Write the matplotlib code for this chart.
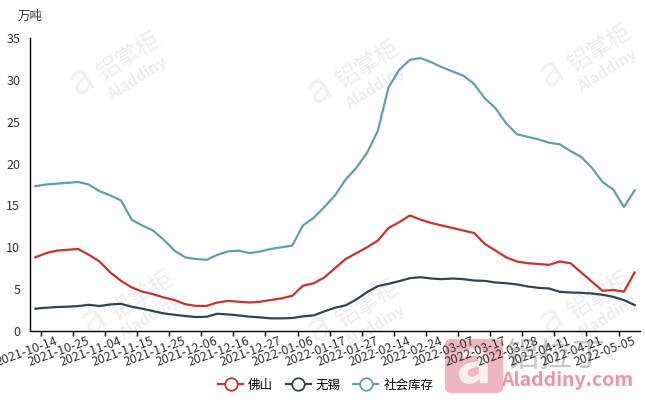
import matplotlib
matplotlib.use("Agg")
import matplotlib.pyplot as plt
from matplotlib.lines import Line2D
from matplotlib.patches import FancyBboxPatch

plt.rcParams['font.family'] = ['Noto Sans CJK SC', 'DejaVu Sans']

# 日期（每周两次）
dates = ['2021-10-08', '2021-10-11', '2021-10-14', '2021-10-18', '2021-10-21', '2021-10-25',
         '2021-10-28', '2021-11-01', '2021-11-04', '2021-11-08', '2021-11-11', '2021-11-15',
         '2021-11-18', '2021-11-22', '2021-11-25', '2021-11-29', '2021-12-02', '2021-12-06',
         '2021-12-09', '2021-12-13', '2021-12-16', '2021-12-20', '2021-12-23', '2021-12-27',
         '2021-12-30', '2022-01-04', '2022-01-06', '2022-01-10', '2022-01-13', '2022-01-17',
         '2022-01-20', '2022-01-24', '2022-01-27', '2022-02-07', '2022-02-10', '2022-02-14',
         '2022-02-17', '2022-02-21', '2022-02-24', '2022-02-28', '2022-03-03', '2022-03-07',
         '2022-03-10', '2022-03-14', '2022-03-17', '2022-03-21', '2022-03-24', '2022-03-28',
         '2022-03-31', '2022-04-07', '2022-04-11', '2022-04-14', '2022-04-18', '2022-04-21',
         '2022-04-25', '2022-04-28', '2022-05-05']

# 佛山
foshan = [8.8, 9.3, 9.6, 9.7, 9.8, 9.1, 8.3, 7.0, 6.0, 5.2, 4.7, 4.4, 4.0, 3.7, 3.2, 3.0, 3.0, 3.4, 3.6, 3.5,
          3.4, 3.5, 3.7, 3.9, 4.2, 5.4, 5.7, 6.4, 7.5, 8.6, 9.3, 10.0, 10.8, 12.3, 13.0, 13.8, 13.3,
          12.9, 12.6, 12.3, 12.0, 11.7, 10.4, 9.6, 8.8, 8.3, 8.1, 8.0, 7.9, 8.3, 8.1, 7.0, 5.9, 4.8, 4.9, 4.7, 7.0]
# 无锡
wuxi = [2.66, 2.78, 2.86, 2.9, 2.98, 3.13, 2.98, 3.17, 3.25, 2.9, 2.66, 2.38, 2.1, 1.94, 1.79, 1.67, 1.7,
        2.06, 1.98, 1.86, 1.71, 1.63, 1.51, 1.51, 1.55, 1.75, 1.86, 2.34, 2.78, 3.06, 3.77, 4.64, 5.36,
        5.64, 5.95, 6.31, 6.43, 6.27, 6.19, 6.27, 6.19, 6.03, 5.99, 5.79, 5.71, 5.56, 5.32, 5.16, 5.08,
        4.68, 4.6, 4.56, 4.48, 4.33, 4.08, 3.69, 3.1]
# 社会库存
total = [17.3, 17.5, 17.6, 17.7, 17.8, 17.5, 16.7, 16.2, 15.6, 13.3, 12.6, 12.0, 10.9, 9.6, 8.8, 8.6, 8.5,
         9.1, 9.5, 9.6, 9.3, 9.5, 9.8, 10.0, 10.2, 12.6, 13.5, 14.8, 16.2, 18.1, 19.5, 21.3, 23.9, 29.1,
         31.2, 32.4, 32.6, 32.1, 31.5, 31.0, 30.5, 29.5, 27.8, 26.6, 24.8, 23.5, 23.2, 22.9, 22.5, 22.3,
         21.5, 20.8, 19.5, 17.8, 16.9, 14.8, 16.8]

names = ['佛山', '无锡', '社会库存']
colors = ['#c23531', '#2f4554', '#61a0a8']


def watermark(fig):
    # 铝掌柜 水印（很淡）
    for x, y in [(0.20, 0.86), (0.57, 0.84), (0.93, 0.88), (0.22, 0.27), (0.57, 0.25), (0.93, 0.27)]:
        fig.text(x, y, '铝掌柜', fontsize=17, color='#ededed', rotation=32,
                 ha='center', va='center', zorder=-1)
        fig.text(x + 0.012, y - 0.055, 'Aladdiny', fontsize=11, color='#ededed', rotation=32,
                 ha='center', va='center', zorder=-1, fontweight='bold', style='italic')
        fig.text(x - 0.075, y - 0.06, 'a', fontsize=30, color='#f0f0f0', rotation=32,
                 ha='center', va='center', zorder=-1)
    # 右下角 铝拉丁
    box = FancyBboxPatch((445 / 645, 1 - 393 / 405), 58 / 645, 54 / 405,
                         boxstyle='round,pad=0,rounding_size=0.012', transform=fig.transFigure,
                         facecolor='#eba3b1', edgecolor='none', alpha=0.8, zorder=-1)
    fig.patches.append(box)
    fig.text(474 / 645, 1 - 365 / 405, 'a', fontsize=44, color='#f7f0f1', ha='center', va='center',
             zorder=-1, fontweight='bold')
    fig.text(556 / 645, 1 - 356 / 405, '铝拉丁', fontsize=24, color='#b5b5b5', ha='center', va='center',
             zorder=-1, alpha=0.75)
    fig.text(567 / 645, 1 - 381 / 405, 'Aladdiny.com', fontsize=14, color='#ea95a5', ha='center',
             va='center', zorder=-1, fontweight='bold')


def main():
    fig = plt.figure(figsize=(6.45, 4.05), dpi=100)
    ax = fig.add_axes([30 / 645, 1 - 331 / 405, 610 / 645, 293 / 405])
    ax.patch.set_alpha(0)

    x = list(range(len(dates)))
    for y, c in zip([foshan, wuxi, total], colors):
        ax.plot(x, y, color=c, lw=1.6, solid_joinstyle='round')

    ax.set_xlim(-0.5, len(dates) - 0.5)
    ax.set_ylim(0, 35)
    ax.set_yticks(range(0, 36, 5))
    ax.tick_params(axis='y', length=0, pad=7, labelsize=9, colors='#333333')

    # 刻度线在类目边界，标签每隔三个
    ax.set_xticks([i + 0.5 for i in range(0, len(dates) - 2, 3)])
    ax.set_xticklabels([])
    ax.tick_params(axis='x', which='major', length=3.5, width=1, color='black')
    lab_pos = list(range(2, len(dates), 3))
    ax.set_xticks(lab_pos, [dates[i] for i in lab_pos], minor=True)
    ax.tick_params(axis='x', which='minor', length=0, pad=7, labelsize=9, labelcolor='#333333')
    for lbl in ax.get_xticklabels(minor=True):
        lbl.set_rotation(20)
        lbl.set_ha('right')
        lbl.set_va('center')
        lbl.set_rotation_mode('anchor')

    for s in ['top', 'right']:
        ax.spines[s].set_visible(False)
    for s in ['left', 'bottom']:
        ax.spines[s].set_color('black')
        ax.spines[s].set_linewidth(1)

    fig.text(18 / 645, 1 - 16 / 405, '万吨', fontsize=9, color='#333333', va='center')

    # 图例
    handles = [Line2D([], [], color=c, lw=1.6, marker='o', markersize=9, markerfacecolor='white',
                      markeredgewidth=1.3) for c in colors]
    fig.legend(handles, names, loc='center', bbox_to_anchor=(0.505, 1 - 385 / 405), ncol=3,
               frameon=False, fontsize=9, handlelength=2.0, columnspacing=1.0, handletextpad=0.4)

    watermark(fig)
    fig.savefig('out.png', dpi=100)


if __name__ == "__main__":
    main()
